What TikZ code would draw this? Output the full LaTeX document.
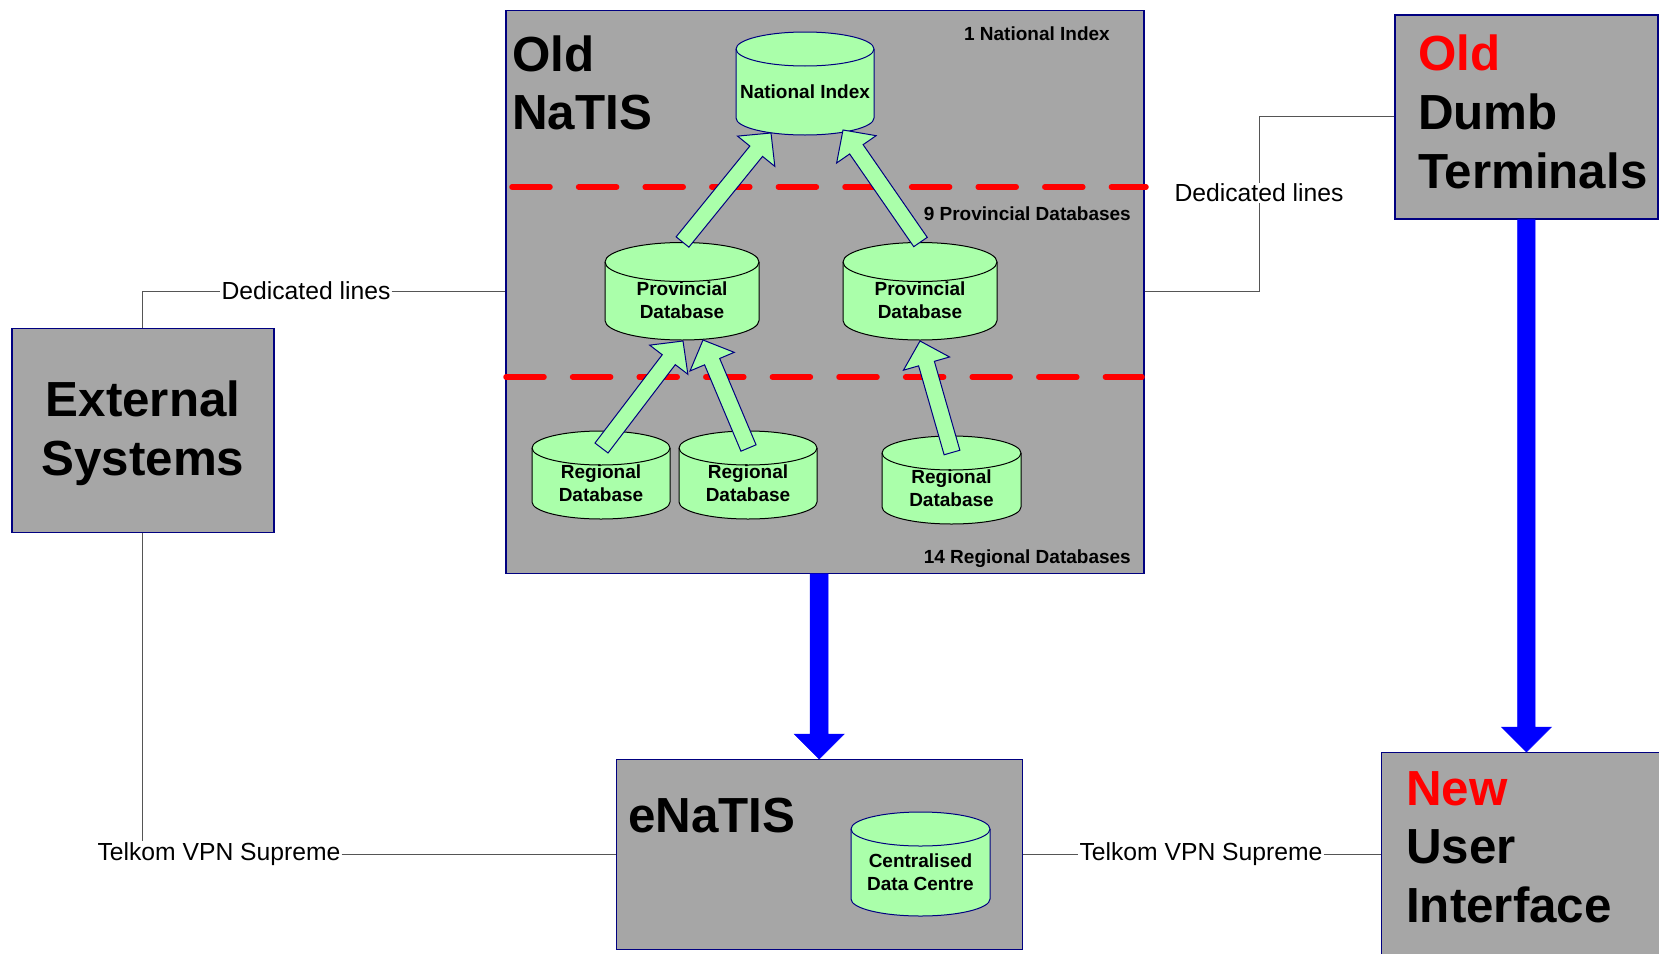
\documentclass[tikz,border=0pt]{standalone}
\usepackage{fontspec}
\setmainfont{Liberation Sans}
\usetikzlibrary{calc}
\definecolor{boxgray}{HTML}{A6A6A6}
\definecolor{navy}{HTML}{000080}
\definecolor{dbgreen}{HTML}{AAFFAA}
\definecolor{linkgray}{HTML}{555555}
\tikzset{
  sysbox/.style={draw=navy,fill=boxgray,line width=1.3pt,inner sep=0pt,anchor=north west},
  title/.style={font=\fontsize{49.3}{58.7}\selectfont\bfseries,align=left,inner sep=0pt,text=black},
  titlec/.style={title,align=center},
  small/.style={font=\fontsize{19}{23}\selectfont\bfseries,inner sep=0pt,align=center,text=black},
  link/.style={draw=linkgray,line width=1pt},
  linklabel/.style={font=\fontsize{24.7}{29}\selectfont,inner sep=1pt,text=black},
  divider/.style={draw=red,line width=5.5pt,line cap=round,dash pattern=on 38pt off 28.6pt},
  fatgreen/.style={draw=navy,fill=dbgreen,line width=1pt,line join=miter},
  fatblue/.style={draw=blue,fill=blue,line width=0.5pt},
}
\newcommand{\fatarrow}[6]{%
  \coordinate (ha) at ($(#3)!#6!(#2)$);
  \draw[#1] ($(#2)!#4!90:(#3)$) -- ($(ha)!#4!90:(#3)$) -- ($(ha)!#5!90:(#3)$) -- (#3)
    -- ($(ha)!#5!-90:(#3)$) -- ($(ha)!#4!-90:(#3)$) -- ($(#2)!#4!-90:(#3)$) -- cycle;
}
% name, cx, top, bottom, rx, ry, line colour, text y, text
\newcommand{\dbcyl}[9]{%
  \draw[fill=dbgreen,draw=#7,line width=1pt]
    ({#2-#5},{#3+#6}) -- ({#2-#5},{#4-#6})
    arc[start angle=180,end angle=360,x radius=#5pt,y radius=#6pt]
    -- ({#2+#5},{#3+#6})
    arc[start angle=0,end angle=180,x radius=#5pt,y radius=#6pt] -- cycle;
  \draw[draw=#7,line width=1pt] ({#2-#5},{#3+#6})
    arc[start angle=180,end angle=360,x radius=#5pt,y radius=#6pt];
  \node[small] (#1) at (#2,#8) {#9};
}
\begin{document}
\begin{tikzpicture}[x=1pt,y=-1pt]
\useasboundingbox (0,0) rectangle (1659,953);
\clip (0,0) rectangle (1659,953);
\fill[white] (0,0) rectangle (1659,953);

% boxes
\node[sysbox,minimum width=638pt,minimum height=563pt] (natis) at (505.3,9.5) {};
\node[sysbox,minimum width=263pt,minimum height=204pt] (dumb) at (1394.3,14.3) {};
\node[sysbox,minimum width=262pt,minimum height=204pt] (ext) at (11.3,328) {};
\node[sysbox,minimum width=406pt,minimum height=190pt] (enatis) at (615.5,759) {};
\node[sysbox,minimum width=290pt,minimum height=204pt] (newui) at (1381,752) {};

% connector labels
\node[linklabel] (dl1) at (306,291) {Dedicated lines};
\node[linklabel] (dl2) at (1259,193) {Dedicated lines};
\node[linklabel] (vpn1) at (219,854) {Telkom VPN Supreme};
\node[linklabel] (vpn2) at (1201,854) {Telkom VPN Supreme};

% connectors
\draw[link] (ext.north) |- (dl1.west);
\draw[link] (dl1.east) -- (dl1.east -| natis.west);
\draw[link] (natis.east) -| (dl2.south);
\draw[link] (dl2.north) |- (dumb.west);
\draw[link] (ext.south) -- (ext.south |- vpn1.north);
\draw[link] (vpn1.east) -- (vpn1.east -| enatis.west);
\draw[link] (enatis.east |- vpn2.west) -- (vpn2.west);
\draw[link] (vpn2.east) -- (vpn2.east -| newui.west);

% dividers
\coordinate (d1a) at (512,187);
\coordinate (d1b) at (1146,187);
\coordinate (d2a) at (506,377);
\coordinate (d2b) at (1142,377);
\draw[divider] (d1a) -- (d1b);
\draw[divider] (d2a) -- (d2b);

% blue arrows
\coordinate (ba1) at (enatis.north |- natis.south);
\coordinate (ba2) at (dumb.south);
\coordinate (bt2) at (dumb.south |- newui.north);
\fatarrow{fatblue}{ba1}{enatis.north}{9pt}{25pt}{25pt}
\fatarrow{fatblue}{ba2}{bt2}{8.75pt}{25pt}{25pt}

% databases
\dbcyl{ni}{805}{32}{135}{69}{17}{navy}{92}{National Index}
\dbcyl{p1}{682}{242.5}{340}{77}{19.5}{black}{300}{Provincial\\Database}
\dbcyl{p2}{920}{242.5}{340}{77}{19.5}{black}{300}{Provincial\\Database}
\dbcyl{r1}{601}{431}{519}{69}{17}{black}{483}{Regional\\Database}
\dbcyl{r2}{748}{431}{519}{69}{17}{black}{483}{Regional\\Database}
\dbcyl{r3}{951.5}{436}{524}{69.5}{17}{black}{488}{Regional\\Database}
\dbcyl{cd}{920.5}{812}{916}{69.5}{17}{navy}{872}{Centralised\\Data Centre}

% green arrows
\coordinate (a1t) at (682.5,242); \coordinate (a1h) at (771,133);
\coordinate (a2t) at (920.5,242); \coordinate (a2h) at (843,130);
\coordinate (a3t) at (601.5,448); \coordinate (a3h) at (683,341);
\coordinate (a4t) at (748.5,448); \coordinate (a4h) at (703,340);
\coordinate (a5t) at (952,452.5); \coordinate (a5h) at (920,341);
\fatarrow{fatgreen}{a1t}{a1h}{8.2pt}{24pt}{23.5pt}
\fatarrow{fatgreen}{a2t}{a2h}{8.2pt}{24pt}{23.5pt}
\fatarrow{fatgreen}{a3t}{a3h}{8.2pt}{24pt}{23.5pt}
\fatarrow{fatgreen}{a4t}{a4h}{8.2pt}{24pt}{23.5pt}
\fatarrow{fatgreen}{a5t}{a5h}{8.2pt}{24pt}{23.5pt}

% titles
\node[title,anchor=west] (t1) at (512,83) {Old\\NaTIS};
\node[title,anchor=west] (t2) at (1418,112) {\textcolor{red}{Old}\\Dumb\\Terminals};
\node[titlec] (t3) at (143,433) {External\\Systems};
\node[title,anchor=west] (t4) at (628,816) {eNaTIS};
\node[title,anchor=west] (t5) at (1406,847) {\textcolor{red}{New}\\User\\Interface};

% captions
\node[small,anchor=east] (c1) at (1110,33.5) {1 National Index};
\node[small,anchor=east] (c2) at (1131,214) {9 Provincial Databases};
\node[small,anchor=east] (c3) at (1131,559) {14 Regional Databases};
\end{tikzpicture}
\end{document}
